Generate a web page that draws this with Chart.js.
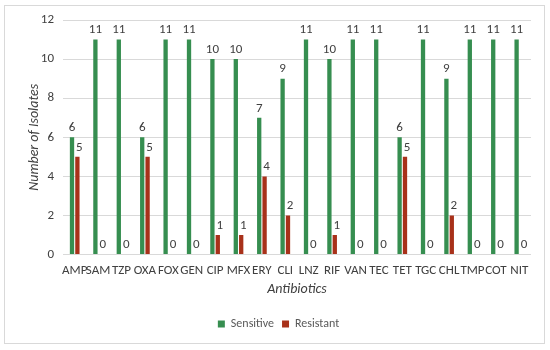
<!DOCTYPE html>
<html><head><meta charset="utf-8">
<script src="https://cdn.jsdelivr.net/npm/chart.js@4/dist/chart.umd.min.js"></script>
<style>
html,body{margin:0;padding:0;background:#fff;}
#wrap{position:absolute;left:0;top:0;width:550px;height:350px;}
#frame{position:absolute;left:4px;top:5px;width:541px;height:339px;border:1px solid #d9d9d9;box-sizing:border-box;pointer-events:none;}
</style></head><body>
<div id="wrap"><canvas id="c" width="550" height="350"></canvas><div id="frame"></div></div>
<script>
const categories = ["AMP","SAM","TZP","OXA","FOX","GEN","CIP","MFX","ERY","CLI","LNZ","RIF","VAN","TEC","TET","TGC","CHL","TMP","COT","NIT"];
const sensitive = [6,11,11,6,11,11,10,10,7,9,11,10,11,11,6,11,9,11,11,11];
const resistant = [5,0,0,5,0,0,1,1,4,2,0,1,0,0,5,0,2,0,0,0];
const yTicks = [0,2,4,6,8,10,12];

const FONT = "Carlito, 'Liberation Sans', Arial, sans-serif";
const valueLabels = {
  id:'valueLabels',
  afterDatasetsDraw(chart){
    const ctx = chart.ctx;
    ctx.save();
    ctx.font = "13px " + FONT;
    ctx.fillStyle = "#404040";
    ctx.textAlign = "center";
    ctx.textBaseline = "bottom";
    chart.data.datasets.forEach((ds,i)=>{
      const meta = chart.getDatasetMeta(i);
      meta.data.forEach((bar,j)=>{
        ctx.fillText(String(ds.data[j]), bar.x + (i===1?2:0), bar.y - 3);
      });
    });
    ctx.restore();
  }
};

new Chart(document.getElementById('c'), {
  type:'bar',
  data:{
    labels:categories,
    datasets:[
      {label:'Sensitive', data:sensitive, backgroundColor:'#368e50', categoryPercentage:0.46, barPercentage:0.8},
      {label:'Resistant', data:resistant, backgroundColor:'#a8311a', categoryPercentage:0.46, barPercentage:0.8}
    ]
  },
  options:{
    responsive:false,
    animation:false,
    layout:{padding:{left:26,right:19,top:20,bottom:10}},
    plugins:{
      legend:{position:'bottom', labels:{font:{family:FONT,size:12}, color:'#595959', boxWidth:7, boxHeight:7, padding:8}},
      tooltip:{enabled:false}
    },
    scales:{
      x:{
        grid:{display:false},
        border:{display:false},
        ticks:{font:{family:FONT,size:13}, color:'#404040', maxRotation:0, autoSkip:false, padding:0},
        title:{display:true, text:'Antibiotics', font:{family:FONT,size:14,style:'italic'}, color:'#404040', padding:{top:3,bottom:12}}
      },
      y:{
        min:0,max:12,
        afterBuildTicks(s){ s.ticks = yTicks.map(v=>({value:v})); },
        afterFit(s){ s.width = 37; },
        grid:{color:'#d9d9d9', drawTicks:false},
        border:{display:false},
        ticks:{font:{family:FONT,size:13}, color:'#404040', padding:9},
        title:{display:true, text:'Number of Isolates', font:{family:FONT,size:14,style:'italic'}, color:'#404040', padding:{top:0,bottom:4}}
      }
    }
  },
  plugins:[valueLabels]
});
</script>
</body></html>
